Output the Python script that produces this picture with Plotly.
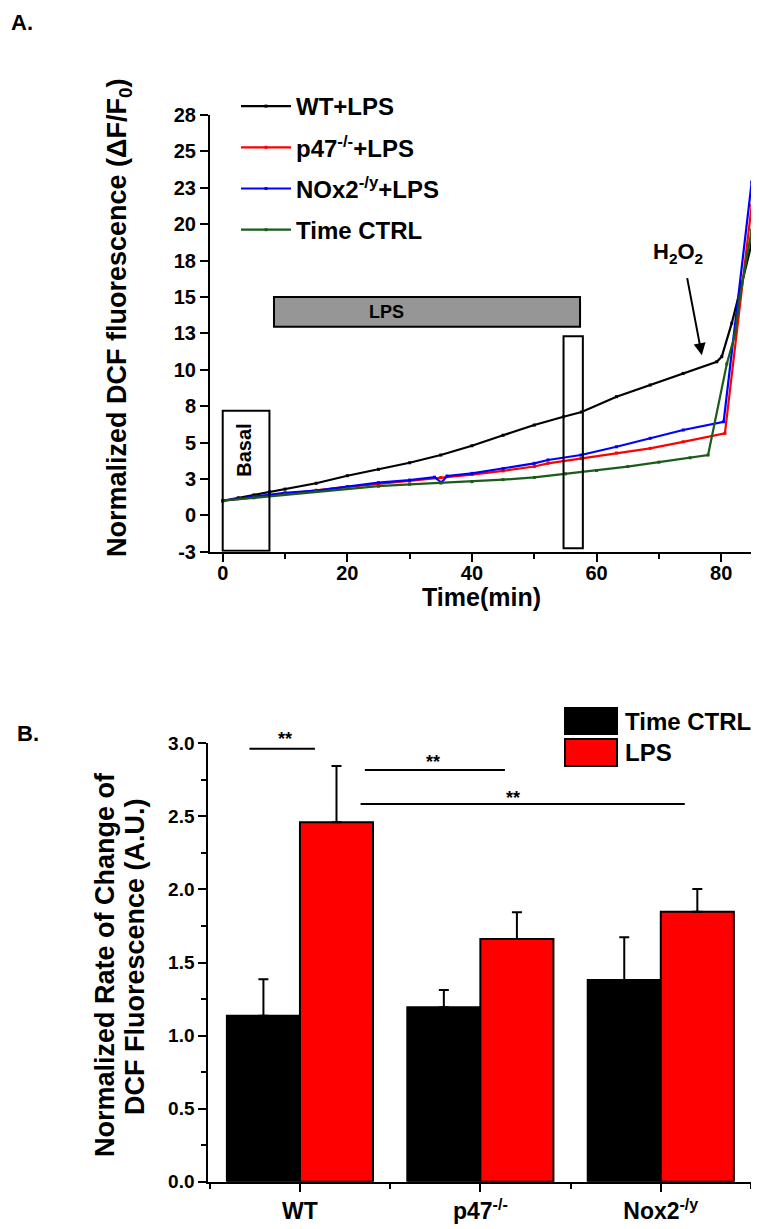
import plotly.graph_objects as go

W, H = 759, 1229
OFF = 8  # page body margin offset compensation
FONT = "Liberation Sans, Arial, sans-serif"

# ---------------- Panel A data (time in min, normalized DCF) ----------------
wt_t = [0, 2.5, 5, 7.5, 10, 15, 20, 25, 30, 35, 40, 45, 50, 54.7, 57.6, 63.2, 68.6, 73.9, 79.3, 80.1, 81.7, 83.3, 84.9]
wt_v = [1.0, 1.2, 1.4, 1.62, 1.8, 2.2, 2.72, 3.16, 3.61, 4.14, 4.78, 5.5, 6.2, 6.77, 7.1, 8.15, 8.95, 9.75, 10.55, 10.9, 13.2, 15.9, 18.7]

p47_t = [0, 5, 10, 15, 20, 25, 30, 35, 40, 45, 50, 52.2, 57.5, 63.2, 68.6, 73.9, 80.6, 84.9]
p47_v = [1.0, 1.25, 1.5, 1.72, 1.95, 2.15, 2.35, 2.6, 2.8, 3.05, 3.35, 3.57, 3.9, 4.28, 4.6, 5.05, 5.63, 21.3]

nox_t = [0, 2.5, 5, 7.5, 10, 15, 20, 25, 30, 34, 35.1, 36, 40, 45, 50, 52.2, 57.5, 63.2, 68.6, 73.9, 80.4, 84.9]
nox_v = [1.0, 1.15, 1.3, 1.45, 1.55, 1.69, 1.96, 2.24, 2.42, 2.62, 2.25, 2.7, 2.88, 3.2, 3.57, 3.8, 4.14, 4.71, 5.29, 5.86, 6.43, 22.9]

ctl_t = [0, 5, 10, 15, 20, 25, 30, 35, 40, 45, 50, 55, 60, 65, 70, 75, 77.9, 80.9, 82.2, 83.0, 84.9]
ctl_v = [1.0, 1.2, 1.45, 1.65, 1.85, 2.0, 2.13, 2.22, 2.31, 2.45, 2.6, 2.85, 3.08, 3.35, 3.65, 3.95, 4.14, 10.4, 12.4, 15.0, 19.6]

series_names = ["WT+LPS", "p47<sup>-/-</sup>+LPS", "NOx2<sup>-/y</sup>+LPS", "Time CTRL"]
series_colors = ["#000000", "#ff0000", "#0000ff", "#1a5c1a"]

a_ytick_vals = [-2.5, 0, 2.5, 5, 7.5, 10, 12.5, 15, 17.5, 20, 22.5, 25, 27.5]
a_ytick_text = ["-3", "0", "3", "5", "8", "10", "13", "15", "18", "20", "23", "25", "28"]
a_xtick_vals = [0, 20, 40, 60, 80]

# ---------------- Panel B data ----------------
groups = ["WT", "p47<sup>-/-</sup>", "Nox2<sup>-/y</sup>"]
ctrl_mean = [1.136, 1.193, 1.380]
ctrl_err = [0.249, 0.119, 0.292]
lps_mean = [2.46, 1.661, 1.848]
lps_err = [0.385, 0.183, 0.155]

fig = go.Figure()

for name, t, v, c in zip(series_names, [wt_t, p47_t, nox_t, ctl_t],
                         [wt_v, p47_v, nox_v, ctl_v], series_colors):
    fig.add_trace(go.Scatter(
        x=t, y=v, mode="lines+markers", name=name, legendgroup=name,
        line=dict(color=c, width=2.2), marker=dict(size=3, color=c, symbol="square"),
        cliponaxis=False, xaxis="x", yaxis="y"))

gx = [0, 1, 2]
fig.add_trace(go.Bar(
    x=gx, y=ctrl_mean, name="Time CTRL", showlegend=False,
    marker=dict(color="black", line=dict(color="black", width=2)),
    error_y=dict(type="data", symmetric=False, array=ctrl_err, arrayminus=[0, 0, 0],
                 color="black", thickness=2, width=5),
    xaxis="x2", yaxis="y2"))
fig.add_trace(go.Bar(
    x=gx, y=lps_mean, name="LPS", showlegend=False,
    marker=dict(color="#ff0000", line=dict(color="black", width=2)),
    error_y=dict(type="data", symmetric=False, array=lps_err, arrayminus=[0, 0, 0],
                 color="black", thickness=2, width=5),
    xaxis="x2", yaxis="y2"))


def py(p):
    return 1 - (p - OFF) / H


def px(p):
    return (p - OFF) / W


axis_common = dict(showgrid=False, zeroline=False, showline=True, linecolor="black",
                   linewidth=2, ticks="outside", tickcolor="black", tickwidth=2, ticklen=8,
                   automargin=False)

fig.update_layout(
    template="none",
    width=W, height=H, margin=dict(l=0, r=0, t=0, b=0, pad=0, autoexpand=False),
    paper_bgcolor="white", plot_bgcolor="white",
    font=dict(family=FONT, color="black"),
    barmode="group", bargap=0.19, bargroupgap=0,
    showlegend=True,
    legend=dict(x=px(236), y=py(84), xanchor="left", yanchor="top",
                font=dict(family=FONT, size=24, weight="bold", color="black"),
                bgcolor="rgba(0,0,0,0)", itemwidth=50, tracegroupgap=7,
                traceorder="grouped"),
    xaxis=dict(axis_common, domain=[px(210), px(751.7)], anchor="y",
               range=[-2.04, 84.9], tickvals=a_xtick_vals, ticklabelstandoff=-6,
               tickfont=dict(family=FONT, size=20, weight="bold"),
               minor=dict(tickvals=[10, 30, 50, 70], ticks="outside", ticklen=5,
                          tickwidth=2, tickcolor="black")),
    yaxis=dict(axis_common, domain=[py(551.7), py(115)], anchor="x",
               range=[-2.5, 27.5], tickvals=a_ytick_vals, ticktext=a_ytick_text,
               tickfont=dict(family=FONT, size=20, weight="bold")),
    xaxis2=dict(axis_common, domain=[px(208.3), px(751)], anchor="y2",
                range=[-0.508, 2.5], tickvals=gx, ticktext=groups,
                tickfont=dict(family=FONT, size=23, weight="bold"),
                minor=dict(tickvals=[-0.5, 0.5, 1.5, 2.5], ticks="outside", ticklen=5,
                           tickwidth=2, tickcolor="black")),
    yaxis2=dict(axis_common, domain=[py(1181.7), py(743.3)], anchor="x2",
                range=[0, 3.0], dtick=0.5, tick0=0, tickformat=".1f",
                tickfont=dict(family=FONT, size=19, weight="bold"),
                minor=dict(dtick=0.25, ticks="outside", ticklen=5, tickwidth=2,
                           tickcolor="black")),
)

shapes = []
# LPS bar
shapes.append(dict(type="rect", xref="x", yref="y", x0=8.23, x1=57.35, y0=12.95, y1=15.0,
                   fillcolor="#969696", line=dict(color="black", width=2), layer="above"))
# Basal box
shapes.append(dict(type="rect", xref="x", yref="y", x0=0, x1=7.5, y0=-2.43, y1=7.18,
                   fillcolor="rgba(0,0,0,0)", line=dict(color="black", width=2), layer="above"))
# second box
shapes.append(dict(type="rect", xref="x", yref="y", x0=54.7, x1=57.8, y0=-2.27, y1=12.3,
                   fillcolor="rgba(0,0,0,0)", line=dict(color="black", width=2), layer="above"))
# significance lines (panel B)
for x0, x1, yv in [(-0.28, 0.083, 2.963), (0.36, 1.136, 2.817), (0.336, 2.133, 2.585)]:
    shapes.append(dict(type="line", xref="x2", yref="y2", x0=x0, x1=x1, y0=yv, y1=yv,
                       line=dict(color="black", width=2)))
# legend squares panel B
shapes.append(dict(type="rect", xref="paper", yref="paper", x0=px(565), x1=px(617),
                   y0=py(734), y1=py(708), fillcolor="black", line=dict(color="black", width=2)))
shapes.append(dict(type="rect", xref="paper", yref="paper", x0=px(565), x1=px(617),
                   y0=py(766), y1=py(739), fillcolor="#ff0000", line=dict(color="black", width=2)))

bold = dict(family=FONT, color="black", weight="bold")
ann = []
ann.append(dict(text="A.", xref="paper", yref="paper", x=px(22), y=py(22), showarrow=False,
                font=dict(bold, size=22), xanchor="center", yanchor="middle"))
ann.append(dict(text="B.", xref="paper", yref="paper", x=px(28), y=py(733), showarrow=False,
                font=dict(bold, size=22), xanchor="center", yanchor="middle"))
ann.append(dict(text="Normalized DCF fluorescence (ΔF/F<sub>0</sub>)", xref="paper", yref="paper",
                x=px(119), y=py(318), textangle=-90, showarrow=False,
                font=dict(bold, size=27), xanchor="center", yanchor="middle"))
ann.append(dict(text="Time(min)", xref="paper", yref="paper", x=px(481), y=py(597),
                showarrow=False, font=dict(bold, size=25),
                xanchor="center", yanchor="middle"))
ann.append(dict(text="LPS", xref="x", yref="y", x=26.3, y=13.97, showarrow=False,
                font=dict(bold, size=18), xanchor="center", yanchor="middle"))
ann.append(dict(text="Basal", xref="x", yref="y", x=3.4, y=4.5, textangle=-90, showarrow=False,
                font=dict(bold, size=20), xanchor="center", yanchor="middle"))
ann.append(dict(text="H<sub>2</sub>O<sub>2</sub>", xref="x", yref="y", x=73.1, y=18.0,
                showarrow=False, font=dict(bold, size=22), xanchor="center", yanchor="middle"))
ann.append(dict(text="", xref="x", yref="y", x=76.9, y=11.0, axref="x", ayref="y",
                ax=74.5, ay=16.4, showarrow=True, arrowhead=2, arrowsize=1.2,
                arrowwidth=2, arrowcolor="black"))
ann.append(dict(text="Normalized Rate of Change of", xref="paper", yref="paper",
                x=px(105), y=py(965), textangle=-90, showarrow=False,
                font=dict(bold, size=27), xanchor="center", yanchor="middle"))
ann.append(dict(text="DCF Fluorescence (A.U.)", xref="paper", yref="paper",
                x=px(135), y=py(957), textangle=-90, showarrow=False,
                font=dict(bold, size=27), xanchor="center", yanchor="middle"))
ann.append(dict(text="Time CTRL", xref="paper", yref="paper", x=px(623), y=py(721),
                showarrow=False, font=dict(bold, size=24), xanchor="left", yanchor="middle"))
ann.append(dict(text="LPS", xref="paper", yref="paper", x=px(623), y=py(752),
                showarrow=False, font=dict(bold, size=24), xanchor="left", yanchor="middle"))
for xp, yp in [(285, 739), (433, 762), (513, 798)]:
    ann.append(dict(text="**", xref="paper", yref="paper", x=px(xp), y=py(yp), showarrow=False,
                    font=dict(bold, size=18), xanchor="center", yanchor="middle"))

fig.update_layout(shapes=shapes, annotations=ann)
fig.write_html("out.html")
